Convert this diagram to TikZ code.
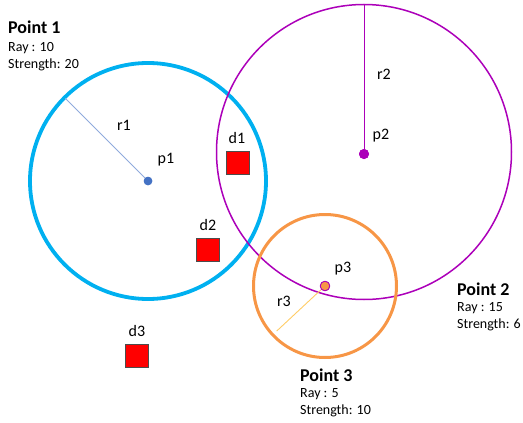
\documentclass[tikz,border=0pt]{standalone}
\usepackage{fontspec}
\setmainfont{Carlito}
\usetikzlibrary{calc}
\definecolor{cblue}{RGB}{0,176,240}
\definecolor{cpurple}{RGB}{172,0,185}
\definecolor{corange}{RGB}{247,150,70}
\definecolor{cdot}{RGB}{68,114,196}
\definecolor{cline}{RGB}{143,170,220}
\definecolor{cyel}{RGB}{255,204,102}
\begin{document}
\begin{tikzpicture}[x=1pt,y=-1pt,
  lbl/.style={font=\fontsize{16}{18}\selectfont, inner sep=0pt},
  ttl/.style={font=\fontsize{18}{20}\selectfont\bfseries, inner sep=0pt, anchor=west},
  sub/.style={font=\fontsize{14}{16}\selectfont, inner sep=0pt, anchor=west},
  sq/.style={draw=black!70, fill=red, minimum size=23pt, inner sep=0pt, line width=0.8pt},
  dotn/.style={circle, inner sep=0pt}]
\useasboundingbox (0,0) rectangle (523,423);
% centers
\node[dotn, fill=cdot, minimum size=8.5pt] (p1) at (148,181) {};
\node[dotn, fill=cpurple, minimum size=10pt] (p2) at (364,154) {};
\node[dotn, fill=corange, draw=cpurple, line width=0.8pt, minimum size=9.5pt] (p3) at (325,286) {};
% circles
\draw[cblue, line width=3.8pt] (p1.center) circle[radius=118];
\draw[cpurple, line width=1.5pt] ($(p2.center)+(0,-2)$) circle[radius=147.5];
\draw[corange, line width=3pt] (p3.center) circle[radius=71.5];
% radii
\coordinate (e1) at ($(p1.center)+(225:117)$);
\coordinate (e2) at ($(p2.center)+(0,-149.5)$);
\coordinate (e3) at ($(p3.center)+(137:66)$);
\draw[cline, line width=0.9pt] (p1) -- (e1);
\draw[cpurple, line width=0.9pt] (p2) -- (e2);
\draw[cyel, line width=0.9pt] (p3) -- (e3);
% redraw dots on top
\node[dotn, fill=cdot, minimum size=8.5pt] at (p1) {};
\node[dotn, fill=cpurple, minimum size=10pt] at (p2) {};
\node[dotn, fill=corange, draw=cpurple, line width=0.8pt, minimum size=9.5pt] at (p3) {};
% squares
\node[sq] (d1) at (237.5,163) {};
\node[sq] (d2) at (208,250) {};
\node[sq] (d3) at (137,356) {};
% labels
\node[lbl] (ld1) at (237,138) {d1};
\node[lbl] (ld2) at (208,225) {d2};
\node[lbl] (ld3) at (137,331) {d3};
\node[lbl] (lp1) at (166,160) {p1};
\node[lbl] (lp2) at (381,136) {p2};
\node[lbl] (lp3) at (343,269) {p3};
\node[lbl] (lr1) at (124,125) {r1};
\node[lbl] (lr2) at (384,74) {r2};
\node[lbl] (lr3) at (284,301) {r3};
% info blocks
\node[ttl] (t1) at (8,27) {Point 1};
\node[sub] (t1a) at (8,48) {Ray : 10};
\node[sub] (t1b) at (8,65) {Strength: 20};
\node[ttl] (t2) at (457,289) {Point 2};
\node[sub] (t2a) at (457,308) {Ray : 15};
\node[sub] (t2b) at (457,325) {Strength: 6};
\node[ttl] (t3) at (300,375) {Point 3};
\node[sub] (t3a) at (300,394) {Ray : 5};
\node[sub] (t3b) at (300,411) {Strength: 10};
\end{tikzpicture}
\end{document}
